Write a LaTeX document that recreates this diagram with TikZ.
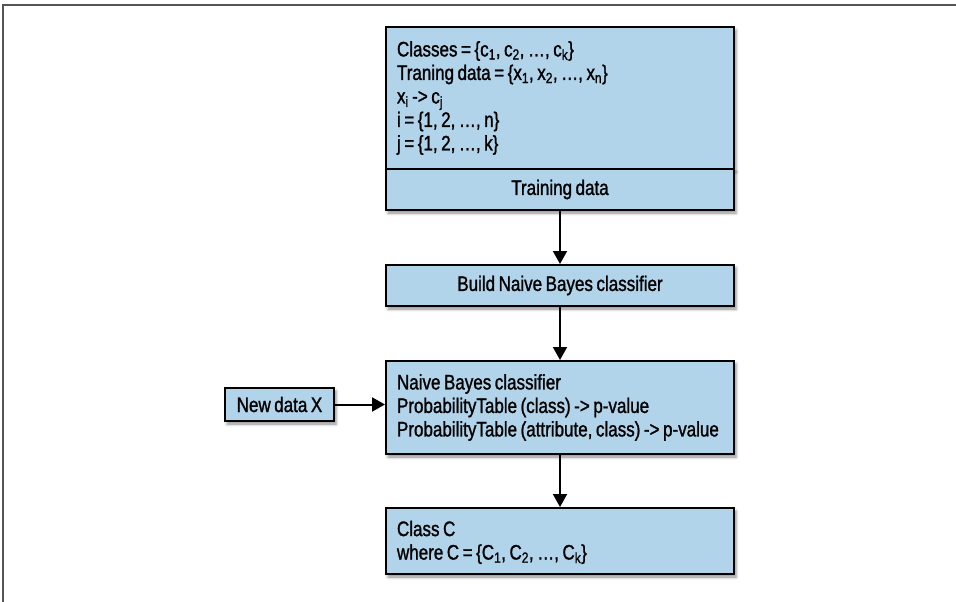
\documentclass[tikz,border=0pt]{standalone}
\usepackage{fontspec}
\setmainfont[FakeStretch=0.81, WordSpace=0.75, FakeBold=1.2]{Liberation Sans}
\usetikzlibrary{arrows.meta,shadows.blur}
\definecolor{boxblue}{RGB}{178,212,234}
\definecolor{framegray}{RGB}{85,85,85}
\tikzset{
  box/.style={draw=black, line width=2pt, fill=boxblue, rectangle, inner sep=0pt,
    font=\fontsize{21}{23.5}\selectfont,
    execute at begin node={\spaceskip=0pt\xspaceskip=0pt},
    blur shadow={shadow xshift=2pt, shadow yshift=-3pt, shadow blur radius=3pt, shadow opacity=45}},
  wide/.style={minimum width=348pt, text width=326pt, inner xsep=11pt},
  flow/.style={line width=2pt, -{Triangle[width=14pt,length=13pt]}},
}
\begin{document}
\begin{tikzpicture}[x=1pt,y=-1pt]
\useasboundingbox (0,0) rectangle (956,602);
% page frame
\draw[framegray, line width=1.5pt] (3,602) -- (3,5) -- (956,5);

% training set description
\node[box, wide, minimum height=142pt, align=left] (spec) at (560,98) {%
  Classes = \{c\textsubscript{1}, c\textsubscript{2}, …, c\textsubscript{k}\}\\
  Traning data = \{x\textsubscript{1}, x\textsubscript{2}, …, x\textsubscript{n}\}\\
  x\textsubscript{i} -> c\textsubscript{j}\\
  i = \{1, 2, …, n\}\\
  j = \{1, 2, …, k\}};
\node[box, minimum width=348pt, minimum height=41pt] (train) at (560,189.5) {Training data};

\node[box, minimum width=348pt, minimum height=41pt] (build) at (560,285.5) {Build Naive Bayes classifier};

\node[box, wide, minimum height=93pt, align=left] (nbc) at (560,407.5) {%
  Naive Bayes classifier\\
  ProbabilityTable (class) -> p-value\\
  ProbabilityTable (attribute, class) -> p-value};

\node[box, minimum width=109pt, minimum height=33pt] (newx) at (279.5,404.5) {New data X};

\node[box, wide, minimum height=66pt, align=left] (result) at (560,541) {%
  \rule{0pt}{18pt}Class C\\
  where C = \{C\textsubscript{1}, C\textsubscript{2}, …, C\textsubscript{k}\}};

% connectors
\draw[flow] (train.south) -- (build.north);
\draw[flow] (build.south) -- (nbc.north);
\draw[flow] (nbc.south) -- (result.north);
\draw[flow] (newx.east) -- (newx.east -| nbc.west);
\end{tikzpicture}
\end{document}
